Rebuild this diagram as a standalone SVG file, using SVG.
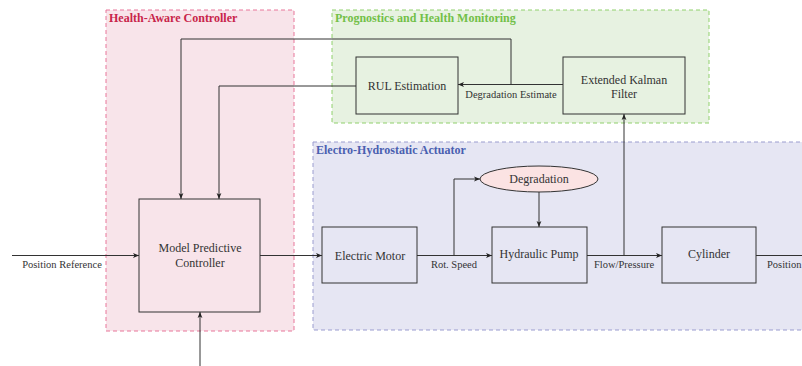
<svg xmlns="http://www.w3.org/2000/svg" width="802" height="366" viewBox="0 0 802 366">
<defs>
<marker id="ah" viewBox="0 0 6 6" refX="6" refY="3" markerWidth="6" markerHeight="6" markerUnits="userSpaceOnUse" orient="auto">
<path d="M0,0.6 L6,3 L0,5.4 L1.5,3 Z" fill="#222"/>
</marker>
<style>
.node{fill:none;stroke:#333;stroke-width:1}
.t{font-family:"Liberation Serif","Times New Roman",serif;font-size:12px;fill:#333;text-anchor:middle}
.l{font-family:"Liberation Serif","Times New Roman",serif;font-size:10.5px;fill:#333;text-anchor:middle}
.title{font-family:"Liberation Serif","Times New Roman",serif;font-size:12px;font-weight:bold}
.c{fill:none;stroke:#333;stroke-width:1}
.a{marker-end:url(#ah)}
</style>
</defs>
<rect width="802" height="366" fill="#fff"/>
<g id="health-aware-controller">
<rect x="106" y="10" width="188" height="321" fill="#f8e4ea" stroke="#e8779a" stroke-width="1" stroke-dasharray="4,3"/>
<text class="title" x="109" y="22" fill="#c8254a">Health-Aware Controller</text>
</g>
<g id="phm">
<rect x="332" y="10" width="377" height="113" fill="#e7f2e1" stroke="#90d06c" stroke-width="1" stroke-dasharray="4,3"/>
<text class="title" x="335" y="22" fill="#72c048">Prognostics and Health Monitoring</text>
</g>
<g id="eha">
<rect x="313" y="142" width="500" height="188" fill="#e6e6f3" stroke="#9a9ccf" stroke-width="1" stroke-dasharray="4,3"/>
<text class="title" x="316" y="154" fill="#4a5fb0">Electro-Hydrostatic Actuator</text>
</g>
<g id="connectors">
<path class="c a" d="M12,255.5 H139"/>
<path class="c a" d="M260,255.5 H322"/>
<path class="c a" d="M417,255.5 H492"/>
<path class="c a" d="M454,255.5 V179 H480"/>
<path class="c a" d="M539,192 V227"/>
<path class="c a" d="M587,255.5 H662"/>
<path class="c a" d="M624,255.5 V114"/>
<path class="c" d="M756,255.5 H802"/>
<path class="c a" d="M563,84.5 H458"/>
<path class="c a" d="M511,84.5 V39 H181 V199"/>
<path class="c a" d="M356,86 H219 V199"/>
<path class="c a" d="M200,366 V312"/>
<text class="l" x="62" y="268">Position Reference</text>
<text class="l" x="454" y="268">Rot. Speed</text>
<text class="l" x="624" y="268">Flow/Pressure</text>
<text class="l" x="767" y="268" style="text-anchor:start">Position</text>
<text class="l" x="511" y="98">Degradation Estimate</text>
</g>
<g id="mpc">
<rect class="node" x="139" y="199" width="121" height="113"/>
<text class="t" x="200" y="252">Model Predictive</text>
<text class="t" x="200" y="267">Controller</text>
</g>
<g id="rul">
<rect class="node" x="356" y="57" width="102" height="57"/>
<text class="t" x="407" y="90">RUL Estimation</text>
</g>
<g id="ekf">
<rect class="node" x="563" y="57" width="122" height="57"/>
<text class="t" x="624" y="84">Extended Kalman</text>
<text class="t" x="624" y="98">Filter</text>
</g>
<g id="motor">
<rect class="node" x="322" y="227" width="95" height="56"/>
<text class="t" x="370" y="260">Electric Motor</text>
</g>
<g id="pump">
<rect class="node" x="492" y="227" width="95" height="56"/>
<text class="t" x="539" y="258">Hydraulic Pump</text>
</g>
<g id="cylinder">
<rect class="node" x="662" y="227" width="94" height="56"/>
<text class="t" x="709" y="258">Cylinder</text>
</g>
<g id="degradation">
<ellipse cx="539" cy="179" rx="59" ry="13" fill="#fbe3e3" stroke="#333" stroke-width="1"/>
<text class="t" x="539" y="183">Degradation</text>
</g>
</svg>
